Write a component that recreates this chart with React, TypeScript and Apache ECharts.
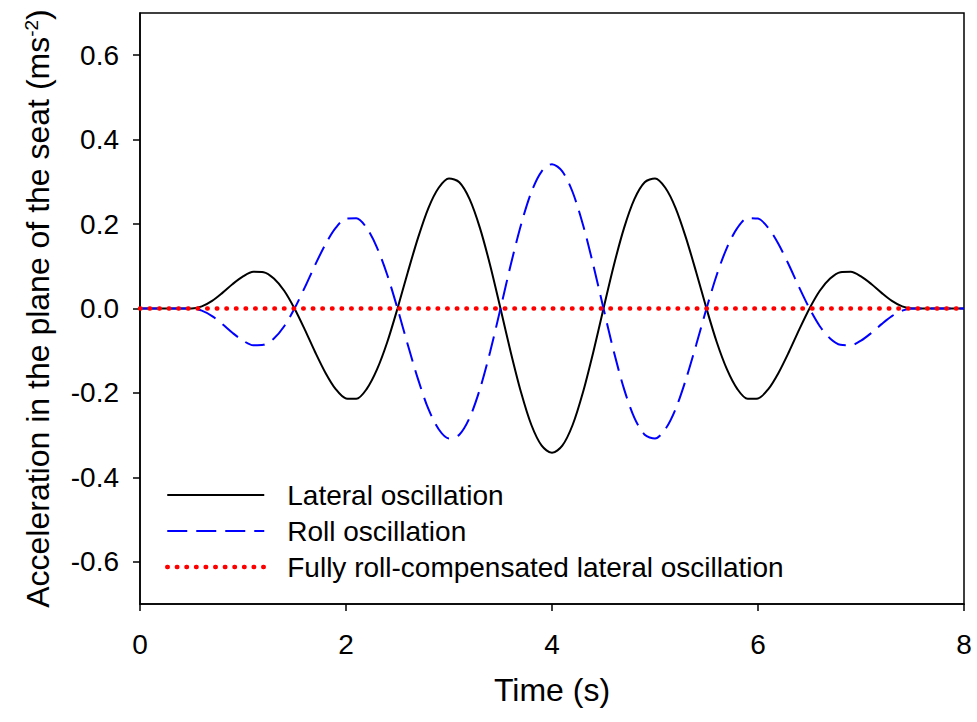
import React, { useEffect, useRef } from "react";
import * as echarts from "echarts";

const time = [
  0.0, 0.1, 0.2, 0.3, 0.4, 0.5, 0.6, 0.7, 0.8, 0.9,
  1.0, 1.1, 1.2, 1.3, 1.4, 1.5, 1.6, 1.7, 1.8, 1.9,
  2.0, 2.1, 2.2, 2.3, 2.4, 2.5, 2.6, 2.7, 2.8, 2.9,
  3.0, 3.1, 3.2, 3.3, 3.4, 3.5, 3.6, 3.7, 3.8, 3.9,
  4.0, 4.1, 4.2, 4.3, 4.4, 4.5, 4.6, 4.7, 4.8, 4.9,
  5.0, 5.1, 5.2, 5.3, 5.4, 5.5, 5.6, 5.7, 5.8, 5.9,
  6.0, 6.1, 6.2, 6.3, 6.4, 6.5, 6.6, 6.7, 6.8, 6.9,
  7.0, 7.1, 7.2, 7.3, 7.4, 7.5, 7.6, 7.7, 7.8, 7.9,
  8.0,
];

const lateral = [
  0, 0, 0, 0, 0, 0, 0.005, 0.018, 0.037, 0.058,
  0.076, 0.087, 0.086, 0.071, 0.042, 0, -0.05, -0.103, -0.152, -0.191,
  -0.213, -0.214, -0.191, -0.145, -0.08, 0, 0.086, 0.168, 0.238, 0.286,
  0.308, 0.299, 0.259, 0.191, 0.102, 0, -0.104, -0.199, -0.276, -0.325,
  -0.342, -0.325, -0.276, -0.199, -0.104, 0, 0.102, 0.191, 0.259, 0.299,
  0.308, 0.286, 0.238, 0.168, 0.086, 0, -0.08, -0.145, -0.191, -0.214,
  -0.213, -0.191, -0.152, -0.103, -0.05, 0, 0.042, 0.071, 0.086, 0.087,
  0.076, 0.058, 0.037, 0.018, 0.005, 0, 0, 0, 0, 0,
  0,
];

const roll = [
  0, 0, 0, 0, 0, 0, -0.005, -0.018, -0.037, -0.058,
  -0.076, -0.087, -0.086, -0.071, -0.042, 0, 0.05, 0.103, 0.152, 0.191,
  0.213, 0.214, 0.191, 0.145, 0.08, 0, -0.086, -0.168, -0.238, -0.286,
  -0.308, -0.299, -0.259, -0.191, -0.102, 0, 0.104, 0.199, 0.276, 0.325,
  0.342, 0.325, 0.276, 0.199, 0.104, 0, -0.102, -0.191, -0.259, -0.299,
  -0.308, -0.286, -0.238, -0.168, -0.086, 0, 0.08, 0.145, 0.191, 0.214,
  0.213, 0.191, 0.152, 0.103, 0.05, 0, -0.042, -0.071, -0.086, -0.087,
  -0.076, -0.058, -0.037, -0.018, -0.005, 0, 0, 0, 0, 0,
  0,
];

const compensated = [
  0, 0, 0, 0, 0, 0, 0, 0, 0, 0,
  0, 0, 0, 0, 0, 0, 0, 0, 0, 0,
  0, 0, 0, 0, 0, 0, 0, 0, 0, 0,
  0, 0, 0, 0, 0, 0, 0, 0, 0, 0,
  0, 0, 0, 0, 0, 0, 0, 0, 0, 0,
  0, 0, 0, 0, 0, 0, 0, 0, 0, 0,
  0, 0, 0, 0, 0, 0, 0, 0, 0, 0,
  0, 0, 0, 0, 0, 0, 0, 0, 0, 0,
  0,
];

const seriesNames = [
  "Lateral oscillation",
  "Roll oscillation",
  "Fully roll-compensated lateral oscillation",
];

const yTicks = [-0.6, -0.4, -0.2, 0.0, 0.2, 0.4, 0.6];

const FONT = "Liberation Sans, Arial, Helvetica, sans-serif";

const solidStyle = { color: "#000", width: 2 };
const dashedStyle = { color: "#0000ff", width: 2, type: [20, 9] };
const dottedStyle = { color: "#ff0000", width: 4.5, type: [0.5, 9.1], cap: "round" };

function pairs(values: number[]) {
  return time.map((t, i) => [t, values[i]]);
}

export default function App() {
  const ref = useRef<HTMLDivElement>(null);

  useEffect(() => {
    if (!ref.current) return;
    const chart = echarts.init(ref.current, null, { renderer: "svg" });
    chart.setOption({
      animation: false,
      backgroundColor: "#ffffff",
      textStyle: { fontFamily: FONT },
      grid: {
        left: 140,
        right: 13,
        top: 13,
        bottom: 118,
        show: true,
        borderColor: "#000",
        borderWidth: 1.5,
        outerBoundsMode: "none",
      },
      legend: {
        orient: "vertical",
        left: 165,
        top: 480,
        padding: 0,
        itemWidth: 97,
        itemHeight: 14,
        itemGap: 6,
        itemStyle: { opacity: 0 },
        data: [
          { name: seriesNames[0], lineStyle: solidStyle },
          { name: seriesNames[1], lineStyle: dashedStyle },
          { name: seriesNames[2], lineStyle: dottedStyle },
        ],
        textStyle: {
          fontFamily: FONT,
          fontSize: 28,
          color: "#000",
          lineHeight: 30,
          padding: [0, 0, 0, 18],
        },
      },
      xAxis: {
        type: "value",
        min: 0,
        max: 8,
        interval: 2,
        name: "Time (s)",
        nameLocation: "middle",
        nameGap: 70,
        nameTextStyle: { fontFamily: FONT, fontSize: 32, color: "#000" },
        axisLine: { show: true, onZero: false, lineStyle: { color: "#000", width: 1.5 } },
        axisTick: { show: true, inside: false, length: 7, lineStyle: { color: "#000", width: 1.5 } },
        axisLabel: { fontFamily: FONT, fontSize: 28, color: "#000", margin: 26 },
        splitLine: { show: false },
      },
      yAxis: {
        type: "value",
        min: -0.7,
        max: 0.7,
        name: "Acceleration in the plane of the seat (ms{sup|-2})",
        nameLocation: "middle",
        nameGap: 86,
        nameTextStyle: {
          fontFamily: FONT,
          fontSize: 32,
          color: "#000",
          rich: {
            sup: { fontFamily: FONT, fontSize: 19, color: "#000", verticalAlign: "top" },
          },
        },
        axisLine: { show: true, onZero: false, lineStyle: { color: "#000", width: 1.5 } },
        axisTick: {
          show: true,
          inside: false,
          length: 7,
          customValues: yTicks,
          lineStyle: { color: "#000", width: 1.5 },
        },
        axisLabel: {
          fontFamily: FONT,
          fontSize: 28,
          color: "#000",
          margin: 21,
          customValues: yTicks,
          formatter: (v: number) => v.toFixed(1),
        },
        splitLine: { show: false },
      },
      series: [
        {
          name: seriesNames[0],
          type: "line",
          data: pairs(lateral),
          symbol: "none",
          smooth: 0.3,
          lineStyle: solidStyle,
          itemStyle: { color: "#000" },
          z: 2,
        },
        {
          name: seriesNames[1],
          type: "line",
          data: pairs(roll),
          symbol: "none",
          smooth: 0.3,
          lineStyle: dashedStyle,
          itemStyle: { color: "#0000ff" },
          z: 3,
        },
        {
          name: seriesNames[2],
          type: "line",
          data: pairs(compensated),
          symbol: "none",
          lineStyle: dottedStyle,
          itemStyle: { color: "#ff0000" },
          z: 4,
        },
      ],
    });
    return () => chart.dispose();
  }, []);

  return (
    <div
      ref={ref}
      style={{ position: "fixed", left: 0, top: 0, width: 977, height: 722, background: "#fff" }}
    />
  );
}
